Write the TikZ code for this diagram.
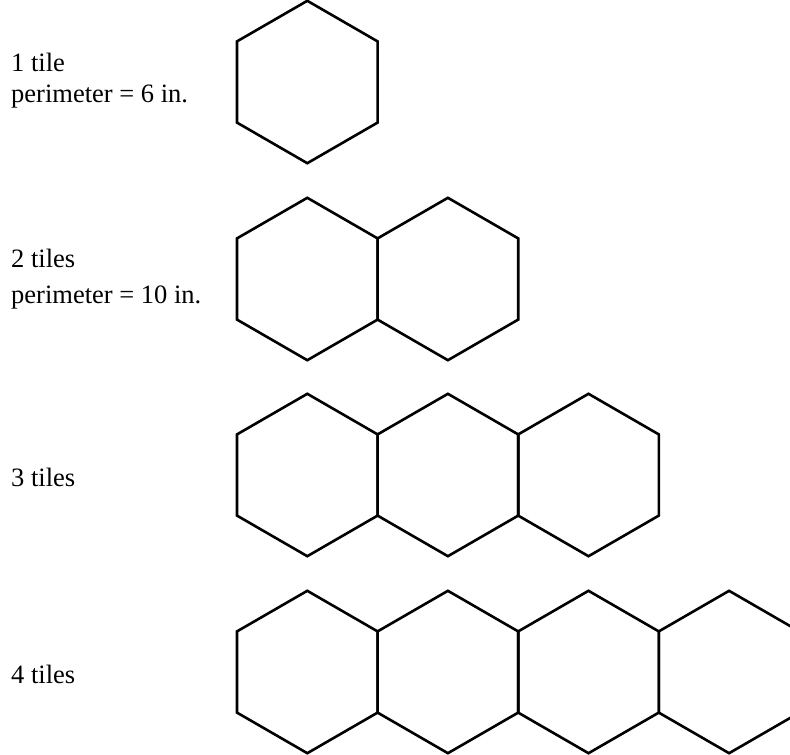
\documentclass[tikz,border=0pt]{standalone}
\usepackage{fontspec}
\setmainfont{Liberation Serif}
\begin{document}
\begin{tikzpicture}[x=1pt,y=-1pt,
  hexline/.style={line width=2.6pt,line join=miter,black},
  lbl/.style={anchor=base west,inner sep=0pt,font=\fontsize{26.5}{32}\selectfont}]
\useasboundingbox (0,0) rectangle (790,755);
\clip (0,0) rectangle (790,755);
\def\hs{81.2}
\def\hw{70.3}
\def\xo{307.3}
% row centres
\foreach \n/\cy in {1/82,2/279,3/475,4/672}{
  \foreach \k in {1,...,\n}{
    \pgfmathsetmacro{\cx}{\xo+(\k-1)*2*\hw}
    \draw[hexline] (\cx,\cy-\hs) -- (\cx+\hw,\cy-\hs/2) -- (\cx+\hw,\cy+\hs/2)
      -- (\cx,\cy+\hs) -- (\cx-\hw,\cy+\hs/2) -- (\cx-\hw,\cy-\hs/2) -- cycle;
  }
}
\node[lbl] (t1a) at (11,71) {1 tile};
\node[lbl] (t1b) at (11,102) {perimeter = 6 in.};
\node[lbl] (t2a) at (11,267) {2 tiles};
\node[lbl] (t2b) at (11,303) {perimeter = 10 in.};
\node[lbl] (t3) at (11,486) {3 tiles};
\node[lbl] (t4) at (11,683) {4 tiles};
\end{tikzpicture}
\end{document}
